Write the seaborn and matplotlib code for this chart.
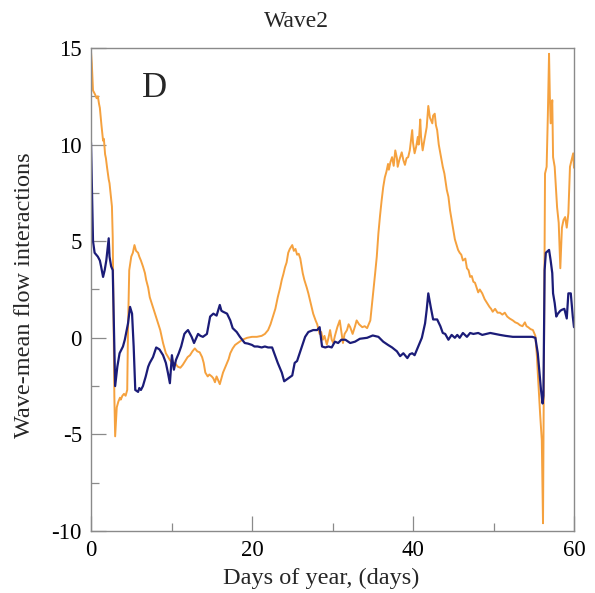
import matplotlib
matplotlib.use("Agg")
import matplotlib.pyplot as plt
import seaborn as sns
import pandas as pd
from matplotlib.ticker import FixedLocator, FixedFormatter

sns.set_theme(style="white")
plt.rcParams['font.family'] = ['Liberation Serif', 'DejaVu Serif']

# ---------------- data ----------------
orange_days = [0.0, 0.1, 0.25, 0.5, 0.7, 0.85, 1.0, 1.1, 1.3, 1.5, 1.6, 1.75, 1.85, 2.0, 2.2, 2.3, 2.5, 2.6, 2.7, 2.8,
               2.9, 3.0, 3.1, 3.2, 3.4, 3.6, 3.7, 3.9, 4.1, 4.3, 4.5, 4.6, 4.75, 5.0, 5.2, 5.4, 5.6, 5.85, 6.0, 6.2,
               6.45, 6.7, 6.85, 7.1, 7.3, 7.6, 7.95, 8.3, 8.6, 8.95, 9.3, 9.8, 10.1, 10.4, 10.8, 11.1, 11.4, 11.7, 12.0, 12.3,
               12.6, 12.9, 13.2, 13.5, 13.8, 14.0, 14.2, 14.5, 14.7, 15.0, 15.2, 15.4, 15.6, 15.8, 16.0, 16.2, 16.4, 16.6, 16.9, 17.1,
               17.3, 17.6, 17.9, 18.3, 18.8, 19.4, 20.0, 20.6, 21.2, 21.6, 22.0, 22.3, 22.6, 22.9, 23.2, 23.5, 23.7, 23.9, 24.1, 24.3,
               24.5, 24.7, 25.0, 25.2, 25.4, 25.6, 25.8, 26.0, 26.3, 26.5, 26.8, 27.0, 27.2, 27.4, 27.6, 27.9, 28.1, 28.4, 28.6, 28.8,
               29.0, 29.3, 29.5, 29.7, 29.9, 30.1, 30.3, 30.6, 30.9, 31.1, 31.3, 31.5, 31.8, 32.0, 32.2, 32.5, 32.8, 33.0, 33.3, 33.7,
               34.0, 34.3, 34.7, 35.0, 35.3, 35.5, 35.7, 35.9, 36.1, 36.3, 36.5, 36.7, 36.9, 37.0, 37.2, 37.4, 37.6, 37.8, 38.0, 38.1,
               38.3, 38.6, 38.8, 39.0, 39.2, 39.4, 39.6, 39.9, 40.0, 40.2, 40.4, 40.6, 40.7, 40.9, 41.0, 41.2, 41.4, 41.7, 41.9, 42.1,
               42.4, 42.5, 42.7, 42.85, 43.0, 43.2, 43.4, 43.7, 43.9, 44.2, 44.4, 44.6, 44.8, 45.0, 45.2, 45.5, 45.6, 45.8, 46.0, 46.2,
               46.5, 46.7, 46.9, 47.1, 47.3, 47.5, 47.7, 47.9, 48.1, 48.3, 48.6, 48.9, 49.2, 49.5, 49.7, 49.9, 50.2, 50.5, 50.8, 51.1,
               51.4, 51.7, 52.0, 52.4, 52.7, 53.0, 53.3, 53.6, 53.9, 54.1, 54.3, 54.6, 54.9, 55.2, 55.4, 55.5, 55.8, 56.0, 56.15, 56.25,
               56.3, 56.4, 56.6, 56.75, 56.9, 57.0, 57.1, 57.3, 57.4, 57.6, 57.9, 58.1, 58.3, 58.5, 58.7, 58.9, 59.1, 59.3, 59.5, 59.7,
               59.9, 60.0]
orange_vals = [14.8, 14.2, 12.8, 12.6, 12.4, 12.5, 12.1, 11.9, 11.0, 10.2, 10.3, 9.5, 9.3, 8.8, 8.2, 8.0, 7.2, 6.8, 5.2, 1.0,
               -3.0, -5.1, -4.3, -3.6, -3.3, -3.1, -3.2, -3.0, -2.9, -3.0, -2.7, 0.5, 3.5, 4.2, 4.4, 4.8, 4.5, 4.4, 4.2, 4.0,
               3.7, 3.35, 3.0, 2.6, 2.1, 1.7, 1.25, 0.8, 0.4, -0.27, -0.8, -1.15, -1.3, -1.3, -1.5, -1.55, -1.4, -1.2, -1.0, -0.9,
               -0.7, -0.55, -0.7, -0.75, -1.0, -1.3, -1.8, -2.0, -1.9, -2.0, -2.1, -2.3, -2.0, -2.2, -2.4, -2.1, -1.8, -1.6, -1.3, -1.1,
               -0.8, -0.55, -0.37, -0.25, -0.1, 0.0, 0.05, 0.05, 0.1, 0.2, 0.4, 0.7, 1.1, 1.5, 2.1, 2.6, 3.0, 3.3, 3.65, 3.9,
               4.4, 4.6, 4.8, 4.5, 4.6, 4.3, 4.35, 4.1, 3.35, 3.0, 2.6, 2.3, 1.95, 1.6, 1.25, 0.9, 0.7, 0.2, 0.3, -0.1,
               0.1, -0.35, 0.0, 0.4, -0.1, -0.27, 0.1, 0.55, 0.9, 0.3, -0.27, 0.2, 0.4, 0.7, 0.55, 0.2, 0.6, 0.9, 0.7, 0.55,
               0.6, 0.5, 0.9, 2.1, 3.35, 4.2, 5.4, 6.3, 7.1, 7.8, 8.3, 8.6, 9.0, 8.7, 9.1, 9.35, 8.9, 9.7, 9.3, 8.85,
               9.2, 9.6, 9.2, 8.95, 9.3, 9.35, 9.7, 10.75, 10.1, 9.55, 9.9, 10.4, 10.0, 11.3, 10.4, 9.7, 10.2, 10.9, 12.0, 11.4,
               11.1, 11.5, 11.6, 11.0, 10.75, 10.0, 9.55, 8.85, 8.5, 7.65, 7.3, 6.6, 6.1, 5.6, 5.1, 4.7, 4.55, 4.4, 4.3, 4.0,
               4.1, 3.6, 3.5, 3.15, 3.2, 2.9, 2.85, 2.6, 2.35, 2.5, 2.3, 2.0, 1.8, 1.6, 1.5, 1.35, 1.5, 1.3, 1.3, 1.2,
               1.3, 1.1, 1.0, 0.9, 0.8, 0.75, 0.65, 0.6, 0.8, 0.6, 0.55, 0.45, 0.4, 0.1, -1.0, -1.8, -4.0, -5.3, -9.6, -2.0,
               1.6, 8.5, 8.85, 11.5, 14.7, 12.5, 11.1, 12.3, 9.35, 8.85, 6.75, 5.95, 3.6, 5.7, 6.1, 6.25, 5.7, 6.45, 8.85, 9.2,
               9.55, 8.8]

navy_days = [0.0, 0.1, 0.25, 0.45, 0.85, 1.1, 1.25, 1.5, 1.7, 1.9, 2.2, 2.3, 2.5, 2.7, 2.85, 3.0, 3.27, 3.55, 3.97, 4.2,
             4.6, 4.85, 5.1, 5.3, 5.5, 5.85, 6.0, 6.2, 6.45, 6.8, 7.1, 7.3, 7.7, 8.1, 8.5, 8.95, 9.3, 9.55, 9.8, 10.05,
             10.3, 10.55, 10.9, 11.2, 11.6, 11.8, 12.05, 12.5, 12.8, 13.3, 13.6, 13.9, 14.4, 14.8, 15.2, 15.6, 16.0, 16.2, 16.4, 16.9,
             17.3, 17.6, 18.1, 18.5, 19.1, 19.5, 20.0, 20.3, 20.7, 21.2, 21.6, 22.0, 22.5, 22.9, 23.2, 23.7, 24.0, 24.5, 25.0, 25.3,
             25.6, 26.0, 26.6, 27.0, 27.6, 28.1, 28.4, 28.7, 29.1, 29.5, 29.9, 30.3, 30.7, 31.1, 31.6, 32.2, 32.8, 33.4, 34.3, 35.0,
             35.7, 36.3, 36.9, 37.4, 38.0, 38.4, 38.8, 39.3, 39.6, 39.9, 40.2, 40.6, 41.1, 41.5, 41.7, 41.9, 42.2, 42.5, 43.0, 43.4,
             43.7, 44.0, 44.4, 44.8, 45.2, 45.5, 45.8, 46.2, 46.7, 47.1, 47.5, 48.1, 48.6, 49.1, 49.6, 50.2, 50.8, 51.5, 52.4, 53.3,
             54.2, 54.8, 55.2, 55.5, 55.9, 56.1, 56.2, 56.35, 56.5, 56.9, 57.1, 57.3, 57.4, 57.6, 57.8, 58.0, 58.3, 58.5, 58.8, 59.1,
             59.3, 59.6, 59.85, 60.0]
navy_vals = [10.1, 8.0, 5.0, 4.4, 4.2, 4.0, 3.7, 3.15, 3.5, 4.0, 5.15, 4.2, 3.7, 3.5, 0.5, -2.5, -1.5, -0.8, -0.45, -0.1,
             0.75, 1.6, 1.25, -0.45, -2.7, -2.8, -2.6, -2.7, -2.5, -2.0, -1.5, -1.3, -1.0, -0.5, -0.6, -0.9, -1.3, -1.8, -2.35, -0.9,
             -1.65, -1.15, -0.8, -0.45, 0.2, 0.3, 0.4, 0.05, -0.27, 0.2, 0.1, 0.05, 0.2, 1.1, 1.25, 1.15, 1.7, 1.4, 1.35, 1.25,
             0.9, 0.5, 0.3, 0.05, -0.27, -0.3, -0.37, -0.45, -0.45, -0.5, -0.45, -0.5, -0.5, -0.95, -1.3, -1.8, -2.25, -2.1, -1.95, -1.3,
             -1.2, -0.7, 0.05, 0.3, 0.4, 0.4, 0.55, -0.45, -0.5, -0.45, -0.5, -0.2, -0.27, -0.1, -0.1, -0.27, -0.2, -0.05, 0.0, 0.12,
             0.05, -0.2, -0.37, -0.5, -0.7, -0.95, -0.8, -1.05, -0.85, -0.8, -0.9, -0.5, 0.0, 0.75, 1.45, 2.3, 1.6, 0.95, 0.95, 0.6,
             0.25, 0.2, -0.1, 0.15, 0.0, 0.15, 0.0, 0.25, 0.05, 0.25, 0.2, 0.25, 0.15, 0.2, 0.25, 0.2, 0.15, 0.1, 0.05, 0.05,
             0.05, 0.05, 0.0, -0.8, -2.7, -3.4, -3.0, 3.5, 4.4, 4.55, 4.0, 3.35, 2.3, 1.8, 1.1, 1.25, 1.4, 1.45, 1.5, 1.0,
             2.3, 2.3, 1.1, 0.55]

x_major = [0, 20, 40, 60]
x_labels = ["0", "20", "40", "60"]
y_major = [-10, -5, 0, 5, 10, 15]
y_labels = ["-10", "-5", "0", "5", "10", "15"]

title = "Wave2"
xlabel = "Days of year, (days)"
ylabel = "Wave-mean flow interactions"
panel = "D"

ORANGE = "#f5a13e"
NAVY = "#1b1c78"
GRAY = "#8a8a8a"

df_o = pd.DataFrame({"day": orange_days, "val": orange_vals})
df_n = pd.DataFrame({"day": navy_days, "val": navy_vals})

fig = plt.figure(figsize=(5.95, 5.93), dpi=100)
ax = fig.add_axes([91 / 595, 1 - 531 / 593, (574 - 91) / 595, (531 - 48) / 593])

sns.lineplot(data=df_o, x="day", y="val", ax=ax, color=ORANGE, lw=1.4,
             estimator=None, sort=False)
sns.lineplot(data=df_n, x="day", y="val", ax=ax, color=NAVY, lw=1.6,
             estimator=None, sort=False)

ax.set_xlim(0, 60)
ax.set_ylim(-10, 15)
ax.set_xlabel("")
ax.set_ylabel("")

ax.xaxis.set_major_locator(FixedLocator(x_major))
ax.xaxis.set_major_formatter(FixedFormatter(x_labels))
ax.xaxis.set_minor_locator(FixedLocator([10, 30, 50]))
ax.yaxis.set_major_locator(FixedLocator(y_major))
ax.yaxis.set_major_formatter(FixedFormatter(y_labels))
ax.yaxis.set_minor_locator(FixedLocator([-7.5, -2.5, 2.5, 7.5, 12.5]))

ax.tick_params(axis="both", which="major", direction="in", length=11, width=0.9,
               color=GRAY, labelsize=16.5, pad=6.5, labelcolor="black",
               top=False, right=False, bottom=True, left=True)
ax.tick_params(axis="both", which="minor", direction="in", length=6, width=0.9,
               color=GRAY, top=False, right=False, bottom=True, left=True)

for s in ax.spines.values():
    s.set_color(GRAY)
    s.set_linewidth(1.0)

fig.text(296 / 595, 1 - 27 / 593, title, ha="center", va="baseline", fontsize=17)
fig.text(321 / 595, 1 - 584 / 593, xlabel, ha="center", va="baseline", fontsize=17.5)
fig.text(25 / 595, 1 - 295 / 593, ylabel, ha="center", va="center", rotation=90, fontsize=17.5)
ax.text(6.34, 12.46, panel, ha="left", va="baseline", fontsize=25)

fig.savefig("out.png", dpi=100)
